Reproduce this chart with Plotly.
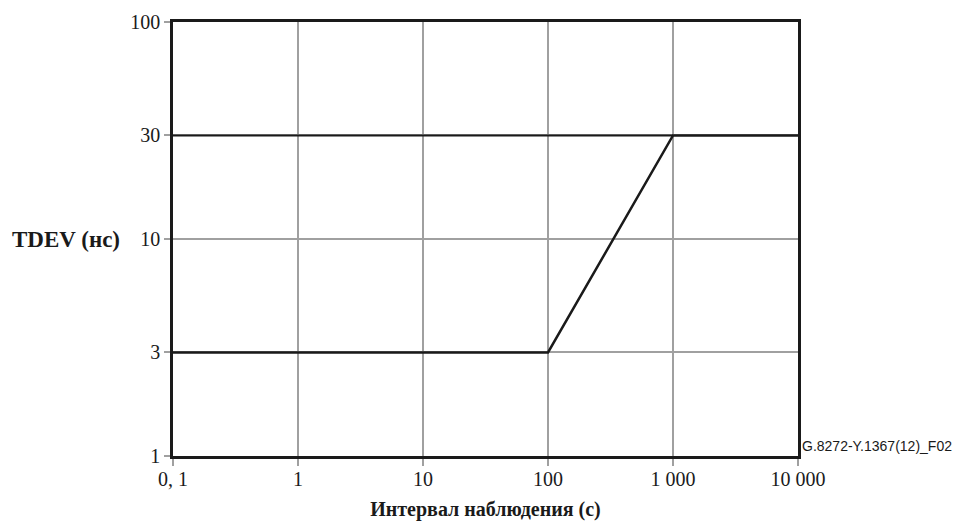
import plotly.graph_objects as go

# Data
interval_s = [0.1, 100, 1000, 10000]
tdev_ns = [3, 3, 30, 30]
upper_x = [0.1, 1000]
upper_y = [30, 30]
x_tickvals = [0.1, 1, 10, 100, 1000, 10000]
x_ticktext = ["0, 1", "1", "10", "100", "1 000", "10 000"]
y_tickvals = [1, 3, 10, 30, 100]
y_ticktext = ["1", "3", "10", "30", "100"]

serif = "Liberation Serif, Times New Roman, serif"
ink = "#1a1a1a"

fig = go.Figure()
fig.add_trace(go.Scatter(x=upper_x, y=upper_y, mode="lines",
                         line=dict(color=ink, width=2), showlegend=False,
                         hoverinfo="skip"))
fig.add_trace(go.Scatter(x=interval_s, y=tdev_ns, mode="lines",
                         line=dict(color=ink, width=2.5), showlegend=False,
                         hoverinfo="skip"))

# note: page body has an 8px margin, compensated in margins below
fig.update_layout(
    width=967, height=528,
    margin=dict(l=165, r=177, t=14, b=80),
    paper_bgcolor="white", plot_bgcolor="white",
    font=dict(family=serif, size=20, color=ink),
    xaxis=dict(type="log", range=[-1, 4], tickvals=x_tickvals, ticktext=x_ticktext,
               showgrid=True, gridcolor="#a0a0a0", gridwidth=2,
               showline=True, linecolor=ink, linewidth=2.5, mirror=True,
               ticks="outside", ticklen=7, tickwidth=2, tickcolor="#a0a0a0",
               zeroline=False, automargin=False, ticklabelstandoff=-4,
               tickfont=dict(family=serif, size=20, color=ink),
               title=dict(text="<b>Интервал наблюдения (с)</b>", standoff=14,
                          font=dict(family=serif, size=20, color=ink))),
    yaxis=dict(type="log", range=[0, 2], tickvals=y_tickvals, ticktext=y_ticktext,
               showgrid=True, gridcolor="#a0a0a0", gridwidth=2,
               showline=True, linecolor=ink, linewidth=2.5, mirror=True,
               ticks="outside", ticklen=6, tickwidth=2, tickcolor="#a0a0a0",
               zeroline=False, automargin=False,
               tickfont=dict(family=serif, size=20, color=ink)),
)

fig.add_annotation(text="<b>TDEV (нс)</b>", xref="paper", yref="y", x=-0.081, y=1,
                   xanchor="right", yanchor="middle", showarrow=False,
                   font=dict(family=serif, size=23, color=ink))
fig.add_annotation(text="G.8272-Y.1367(12)_F02", xref="paper", yref="paper",
                   x=1.003, y=0.0, xanchor="left", yanchor="bottom", showarrow=False,
                   font=dict(family="Liberation Sans, Arial, sans-serif", size=14,
                             color=ink))

fig.write_html("out.html")
